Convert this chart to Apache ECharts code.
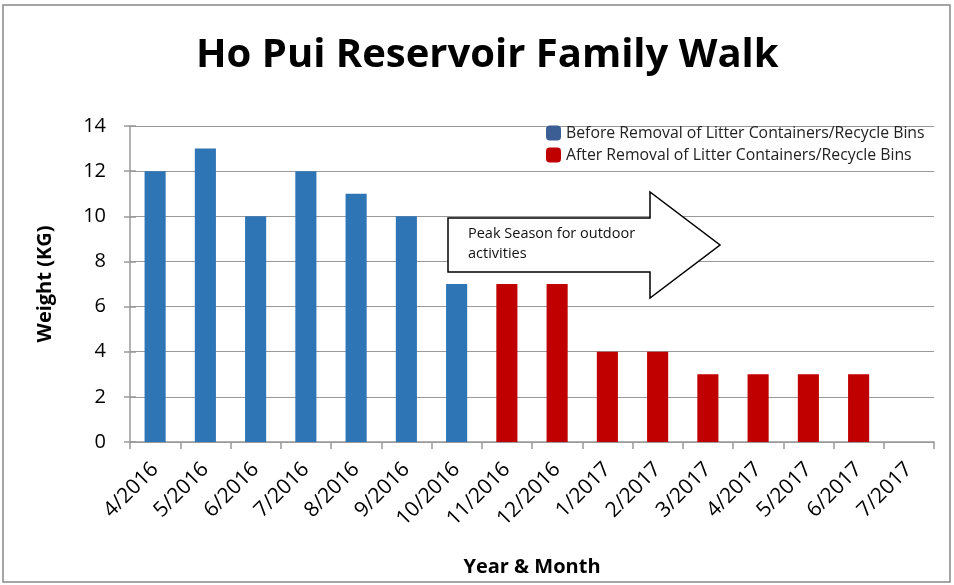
<!DOCTYPE html>
<html><head><meta charset="utf-8">
<script src="https://cdn.jsdelivr.net/npm/echarts@6/dist/echarts.min.js"></script>
<style>html,body{margin:0;padding:0;background:#fff}#c{width:954px;height:585px}</style>
</head><body><div id="c"></div>
<script>
const categories = ['4/2016','5/2016','6/2016','7/2016','8/2016','9/2016','10/2016','11/2016','12/2016','1/2017','2/2017','3/2017','4/2017','5/2017','6/2017','7/2017'];
const beforeValues = [12,13,10,12,11,10,7,'-','-','-','-','-','-','-','-','-'];
const afterValues = ['-','-','-','-','-','-','-',7,7,4,4,3,3,3,3,'-'];
const yTicks = [0,2,4,6,8,10,12,14];
const FONT = '"Open Sans", "Noto Sans", sans-serif';

const chart = echarts.init(document.getElementById('c'));
chart.setOption({
  animation: false,
  textStyle: { fontFamily: FONT },
  title: {
    text: 'Ho Pui Reservoir Family Walk', left: 191, top: 31,
    textStyle: { fontSize: 40, fontWeight: 'bold', color: '#000', fontFamily: FONT }
  },
  legend: {
    orient: 'vertical', left: 541, top: 120, itemWidth: 15, itemHeight: 15, itemGap: 6,
    textStyle: { fontSize: 15.8, color: '#222', fontFamily: FONT },
    data: [
      { name: 'Before Removal of Litter Containers/Recycle Bins', itemStyle: { color: '#3b5f95' } },
      { name: 'After Removal of Litter Containers/Recycle Bins', itemStyle: { color: '#c00000' } }
    ]
  },
  grid: { left: 130, right: 20, top: 126, bottom: 143 },
  xAxis: {
    type: 'category', data: categories,
    name: 'Year & Month', nameLocation: 'middle', nameGap: 115,
    nameTextStyle: { fontSize: 20, fontWeight: 'bold', color: '#000', fontFamily: FONT },
    axisLine: { lineStyle: { color: '#999', width: 1.5 } },
    axisTick: { show: true, length: 7, lineStyle: { color: '#999', width: 1.5 } },
    axisLabel: { rotate: 45, fontSize: 21, color: '#000', margin: 24, fontFamily: FONT }
  },
  yAxis: [{
    type: 'value', min: yTicks[0], max: yTicks[yTicks.length - 1], interval: 2,
    name: 'Weight (KG)', nameLocation: 'middle', nameGap: 75, nameRotate: 90,
    nameTextStyle: { fontSize: 20, fontWeight: 'bold', color: '#000', fontFamily: FONT },
    axisLine: { show: true, lineStyle: { color: '#999', width: 1.5 } },
    axisTick: { show: true, length: 6, inside: false, lineStyle: { color: '#999', width: 1.5 } },
    axisLabel: { fontSize: 20, color: '#000', margin: 24, fontFamily: FONT },
    splitLine: { lineStyle: { color: '#999', width: 1 } }
  }, {
    type: 'value', position: 'left', min: yTicks[0], max: yTicks[yTicks.length - 1], interval: 2,
    axisLine: { show: false }, axisLabel: { show: false }, splitLine: { show: false },
    axisTick: { show: true, length: 6, inside: true, lineStyle: { color: '#999', width: 1.5 } }
  }],
  series: [
    { name: 'Before Removal of Litter Containers/Recycle Bins', type: 'bar', stack: 's', data: beforeValues, barWidth: '42%', itemStyle: { color: '#2e75b6' } },
    { name: 'After Removal of Litter Containers/Recycle Bins', type: 'bar', stack: 's', data: afterValues, barWidth: '42%', itemStyle: { color: '#c00000' } }
  ],
  graphic: [
    { type: 'rect', shape: { x: 3, y: 5, width: 947, height: 577 }, style: { fill: 'none', stroke: '#888', lineWidth: 1.5 }, z: 100 },
    { type: 'polygon', shape: { points: [[448,218],[650,218],[650,192],[720,245],[650,298],[650,272],[448,272]] },
      style: { fill: '#fff', stroke: '#000', lineWidth: 1.5 }, z: 50 },
    { type: 'text', left: 468, top: 224, style: { text: 'Peak Season for outdoor\nactivities', fontSize: 14.5, lineHeight: 20, fill: '#111', fontFamily: FONT }, z: 51 }
  ]
});
</script></body></html>
